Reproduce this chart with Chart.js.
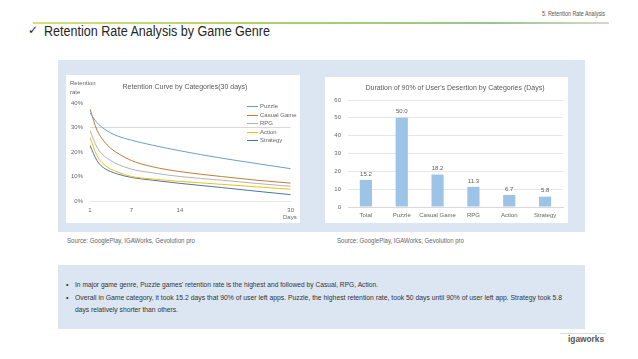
<!DOCTYPE html>
<html>
<head>
<meta charset="utf-8">
<script src="https://cdn.jsdelivr.net/npm/chart.js"></script>
<style>
  body { margin: 0; background: #fff; font-family: "Liberation Sans", Arial, sans-serif; }
  #page { position: relative; width: 638px; height: 359px; overflow: hidden; }
  .abs { position: absolute; white-space: nowrap; }
  .fit { transform-origin: 0 0; }
  .panel { position: absolute; background: #dce6f2; }
  .inner { position: absolute; background: #fff; }
  canvas { position: absolute; }
  .small { font-size: 6.5px; color: #666; }
  .bullet { font-size: 7.3px; color: #333; }
</style>
</head>
<body>
<div id="page">
  <div class="abs fit" data-w="63" style="left:542px; top:10px; font-size:7px; color:#555;">5. Retention Rate Analysis</div>
  <div class="abs" style="left:33px; top:22px; width:576px; height:2px; background:linear-gradient(to right,#d6dd7e,#a9cf6c 45%,#98c58c 80%,#cfdcc8);"></div>
  <div class="abs" style="left:28px; top:23px; font-family:'DejaVu Sans'; font-size:12px; color:#262626;">✓</div>
  <div class="abs fit" data-w="226" style="left:44px; top:23px; font-size:14px; color:#262626;">Retention Rate Analysis by Game Genre</div>

  <div class="panel" style="left:58px; top:60px; width:527px; height:172px;"></div>
  <div class="inner" style="left:66px; top:75px; width:234px; height:148px;"></div>
  <div class="inner" style="left:325px; top:77px; width:243px; height:146px;"></div>

  <canvas id="lineChart" width="234" height="148" style="left:66px; top:75px;"></canvas>
  <canvas id="barChart" width="243" height="146" style="left:325px; top:77px;"></canvas>

  <div class="abs" style="left:185px; top:83px; transform:translateX(-50%); font-size:7px; color:#595959;">Retention Curve by Categories(30 days)</div>
  <div class="abs" style="left:70px; top:79px; font-size:6px; color:#666; line-height:8.5px;">Retention<br>rate</div>
  <div class="abs" style="left:283px; top:214px; font-size:6px; color:#666;">Days</div>
  <div id="legend" class="abs" style="left:247px; top:102px;"></div>

  <div class="abs" style="left:455px; top:84px; transform:translateX(-50%); font-size:7px; color:#595959;">Duration of 90% of User's Desertion by Categories (Days)</div>

  <div class="abs small fit" data-w="128" style="left:67px; top:237px;">Source: GooglePlay, IGAWorks, Gevolution pro</div>
  <div class="abs small fit" data-w="127" style="left:337px; top:237px;">Source: GooglePlay, IGAWorks, Gevolution pro</div>

  <div class="panel" style="left:58px; top:265px; width:527px; height:64px;"></div>
  <div class="abs bullet" style="left:66px; top:280px;">•</div>
  <div class="abs bullet fit" data-w="303" style="left:75px; top:280px;">In major game genre, Puzzle games' retention rate is the highest and followed by Casual, RPG, Action.</div>
  <div class="abs bullet" style="left:66px; top:293px;">•</div>
  <div class="abs bullet fit" data-w="487" style="left:75px; top:293px;">Overall in Game category, it took 15.2 days that 90% of user left apps. Puzzle, the highest retention rate, took 50 days until 90% of user left app. Strategy took 5.8</div>
  <div class="abs bullet fit" data-w="103" style="left:75px; top:305px;">days relatively shorter than others.</div>

  <div class="abs" style="left:560px; top:333px; width:46px; height:1px; background:#ddd;"></div>
  <div class="abs fit" data-w="36" style="left:568px; top:334px; font-size:9px; font-weight:bold; color:#555;">igaworks</div>
</div>

<script>
// retention curves (30 days)
const days = [1, 2, 3, 4, 5, 7, 10, 14, 20, 25, 30];
const puzzle = [36, 32, 29.5, 27.8, 26.5, 24.8, 22.8, 20.5, 17.5, 15.3, 13.2];
const casual = [37.5, 29, 24.5, 21.5, 19.5, 16.5, 14, 12, 10, 8.5, 7.3];
const rpg = [28.8, 22, 18.5, 16.5, 15, 13, 11.5, 10, 8.5, 7.2, 6];
const action = [26, 18.5, 15, 13, 11.8, 10, 9, 8, 6.8, 5.8, 4.8];
const strategy = [22.7, 16.5, 13.5, 12, 11, 9.6, 8.5, 7.2, 5.5, 4, 2.6];
const seriesNames = ["Puzzle", "Casual Game", "RPG", "Action", "Strategy"];
const seriesColors = ["#6a9fcc", "#c47a3e", "#b3b3b3", "#f2bf12", "#4a74ad"];
const dayTicks = [1, 7, 14, 30];

// duration of 90% desertion
const categories = ["Total", "Puzzle", "Casual Game", "RPG", "Action", "Strategy"];
const durations = [15.2, 50.0, 18.2, 11.3, 6.7, 5.8];

// squeeze text blocks to the widths they have in the picture
document.querySelectorAll(".fit").forEach((el) => {
  const w = el.getBoundingClientRect().width;
  el.style.transform = "scaleX(" + (Number(el.dataset.w) / w) + ")";
});

Chart.defaults.font.family = '"Liberation Sans", Arial, sans-serif';
Chart.defaults.font.size = 6;
Chart.defaults.color = "#666";
Chart.defaults.animation = false;

const allSeries = [puzzle, casual, rpg, action, strategy];
const lineDatasets = allSeries.map((s, k) => ({
  label: seriesNames[k],
  data: days.map((d, i) => ({ x: d, y: s[i] })),
  borderColor: seriesColors[k],
  borderWidth: 1,
  pointRadius: 0,
  cubicInterpolationMode: "monotone",
  fill: false,
}));

new Chart(document.getElementById("lineChart"), {
  type: "line",
  data: { datasets: lineDatasets },
  options: {
    responsive: false,
    layout: { padding: { top: 28, right: 7, left: 0, bottom: 0 } },
    plugins: { legend: { display: false }, tooltip: { enabled: false } },
    scales: {
      x: {
        type: "linear",
        min: 1,
        max: 30,
        afterBuildTicks: (axis) => { axis.ticks = dayTicks.map((v) => ({ value: v })); },
        afterFit: (s) => { s.height = 22; },
        grid: { display: false, drawTicks: false },
        border: { color: "#e6e6e6" },
        ticks: { padding: 6, color: "#666", maxRotation: 0 },
      },
      y: {
        min: 0,
        max: 40,
        afterFit: (s) => { s.width = 24; },
        grid: {
          drawTicks: false,
          color: (c) => (c.tick && c.tick.value === 30 ? "#d9d9d9" : "rgba(0,0,0,0)"),
        },
        border: { display: false },
        ticks: { stepSize: 10, padding: 7, callback: (v) => v + "%" },
      },
    },
  },
});

// html legend from the series
const legend = document.getElementById("legend");
seriesNames.forEach((name, k) => {
  const row = document.createElement("div");
  row.style.cssText = "position:absolute;left:0;top:" + (k * 8.5) + "px;width:60px;height:8px;font-size:6px;color:#666;line-height:8px;white-space:nowrap;";
  row.innerHTML = '<span style="position:absolute;left:0;top:4px;width:11px;height:1px;background:' + seriesColors[k] + ';"></span><span style="position:absolute;left:13px;top:0;">' + name + "</span>";
  legend.appendChild(row);
});

const barLabels = {
  id: "barLabels",
  afterDatasetsDraw(chart) {
    const ctx = chart.ctx;
    const meta = chart.getDatasetMeta(0);
    ctx.save();
    ctx.font = '6px "Liberation Sans", Arial, sans-serif';
    ctx.fillStyle = "#595959";
    ctx.textAlign = "center";
    ctx.textBaseline = "bottom";
    meta.data.forEach((bar, i) => {
      ctx.fillText(durations[i].toFixed(1), bar.x, bar.y - 3);
    });
    ctx.restore();
  },
};

new Chart(document.getElementById("barChart"), {
  type: "bar",
  data: {
    labels: categories,
    datasets: [{
      data: durations,
      backgroundColor: "#9dc3e6",
      categoryPercentage: 1,
      barPercentage: 0.34,
    }],
  },
  options: {
    responsive: false,
    layout: { padding: { top: 23, right: 5, left: 0, bottom: 0 } },
    plugins: { legend: { display: false }, tooltip: { enabled: false } },
    scales: {
      x: {
        afterFit: (s) => { s.height = 16; },
        grid: { display: false, drawTicks: false },
        border: { color: "#d9d9d9" },
        ticks: { padding: 5, color: "#666", maxRotation: 0, autoSkip: false },
      },
      y: {
        min: 0,
        max: 60,
        afterFit: (s) => { s.width = 23; },
        grid: { drawTicks: false, color: "#e6e6e6" },
        border: { display: false },
        ticks: { stepSize: 10, padding: 7 },
      },
    },
  },
  plugins: [barLabels],
});
</script>
</body>
</html>
